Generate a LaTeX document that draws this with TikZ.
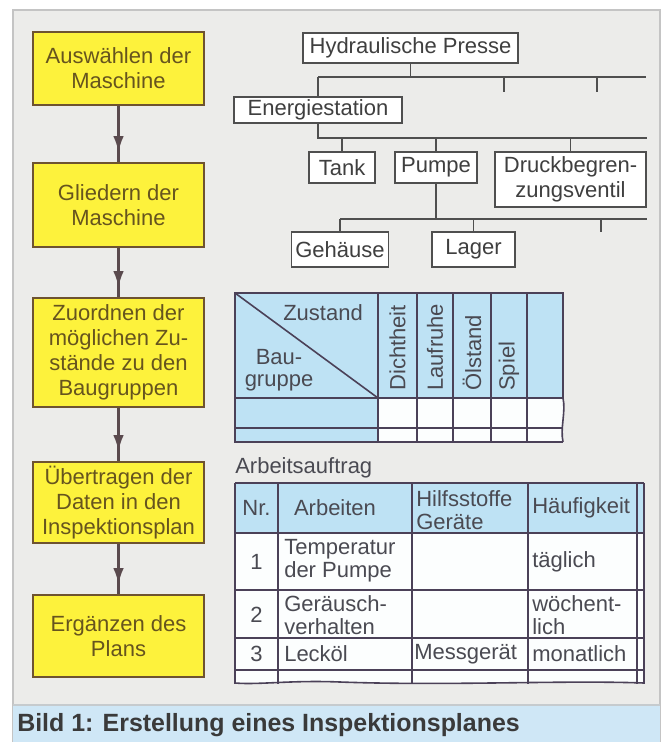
\documentclass[tikz,border=0pt]{standalone}
\usepackage{fontspec}
\setmainfont{Liberation Sans}
\usetikzlibrary{arrows.meta,decorations.markings,calc}

\definecolor{panel}{HTML}{ECECEA}
\definecolor{paneledge}{HTML}{C4C4C4}
\definecolor{capband}{HTML}{CFE7F6}
\definecolor{boxfill}{HTML}{FDF23C}
\definecolor{boxedge}{HTML}{6E5330}
\definecolor{boxtext}{HTML}{66541E}
\definecolor{flowc}{HTML}{5A4A4E}
\definecolor{treeline}{HTML}{4F4F4F}
\definecolor{treetext}{HTML}{3F3F3F}
\definecolor{tblue}{HTML}{BEE2F4}
\definecolor{tline}{HTML}{4B4158}
\definecolor{ttext}{HTML}{4A4A52}
\definecolor{captext}{HTML}{3A3A3A}

\def\pxu{0.75pt}
\newcommand\mainfs{\fontsize{16.5}{18.75}\selectfont}

\tikzset{
  stepbox/.style={draw=boxedge, line width=1.5pt, fill=boxfill, text=boxtext,
    align=center, inner sep=0pt, minimum width=171*\pxu, font=\mainfs},
  treebox/.style={draw=treeline, line width=1.4pt, fill=white, text=treetext,
    align=center, inner sep=0pt, font=\mainfs},
  treeline/.style={draw=treeline, line width=1.4pt},
  flow/.style={draw=flowc, line width=1.6pt, postaction={decorate},
    decoration={markings, mark=at position -7.5pt with
      {\arrow{Latex[length=12pt,width=8pt]}}}},
  grid/.style={draw=tline, line width=1.2pt},
  ttxt/.style={text=ttext, font=\mainfs, inner sep=0pt},
}

\begin{document}
\begin{tikzpicture}[x=0.75pt,y=-0.75pt]
\useasboundingbox (0,0) rectangle (666,742);

% background panel and caption band
\fill[white] (0,0) rectangle (666,742);
\fill[panel] (13,10) rectangle (660,705);
\draw[paneledge, line width=1pt] (13,742) -- (13,10) -- (660,10) -- (660,742);
\fill[capband] (13,705) rectangle (660,742);
\draw[paneledge!80!capband, line width=0.8pt] (13,705) -- (660,705);
\node[anchor=west, text=captext, inner sep=0pt,
      font=\fontsize{18.7}{21}\selectfont\bfseries] (cap) at (17,725)
  {Bild 1: Erstellung eines Inspektionsplanes};

% process steps
\node[stepbox, minimum height=73*\pxu]  (s1) at (118.5,68.5) {Auswählen der\\Maschine};
\node[stepbox, minimum height=84*\pxu]  (s2) at (118.5,205) {Gliedern der\\Maschine};
\node[stepbox, minimum height=109*\pxu] (s3) at (118.5,352.5) {Zuordnen der\\möglichen Zu-\\stände zu den\\Baugruppen};
\node[stepbox, minimum height=81*\pxu]  (s4) at (118.5,502.5) {Übertragen der\\Daten in den\\Inspektionsplan};
\node[stepbox, minimum height=82*\pxu]  (s5) at (118.5,636) {Ergänzen des\\Plans};

\draw[flow] (s1) -- (s2);
\draw[flow] (s2) -- (s3);
\draw[flow] (s3) -- (s4);
\draw[flow] (s4) -- (s5);

% structure tree of the machine
\node[treebox, minimum width=215*\pxu, minimum height=30*\pxu] (hp) at (410.5,48) {Hydraulische Presse};
\node[treebox, minimum width=168*\pxu, minimum height=26*\pxu] (es) at (318,110) {Energiestation};
\node[treebox, minimum width=66*\pxu, minimum height=31*\pxu] (tank) at (342,167.5) {Tank};
\node[treebox, minimum width=82*\pxu, minimum height=31*\pxu] (pumpe) at (436,167.5) {Pumpe};
\node[treebox, minimum width=151*\pxu, minimum height=55*\pxu] (dbv) at (570.5,179.5) {Druckbegren-\\zungsventil};
\node[treebox, minimum width=97*\pxu, minimum height=35*\pxu] (geh) at (340,249.5) {Gehäuse};
\node[treebox, minimum width=83*\pxu, minimum height=35*\pxu] (lager) at (473.5,249.5) {Lager};

\coordinate (b1l) at (318,77);  \coordinate (b1r) at (646,77);
\coordinate (b2l) at (318,138); \coordinate (b2r) at (647,138);
\coordinate (b3l) at (340,219); \coordinate (b3r) at (647,219);
\coordinate (f1) at (504,77); \coordinate (f2) at (597,77); \coordinate (f3) at (601,219);

\draw[treeline] (hp.south) -- (hp.south |- b1l);
\draw[treeline] (b1l) -- (b1r);
\draw[treeline] (b1l) -- (es.north);
\draw[treeline] (f1) -- ++(0,15);
\draw[treeline] (f2) -- ++(0,15);
\draw[treeline] (es.south) -- (b2l) -- (b2r);
\draw[treeline] (tank.north |- b2l) -- (tank.north);
\draw[treeline] (pumpe.north |- b2l) -- (pumpe.north);
\draw[treeline] (dbv.north |- b2l) -- (dbv.north);
\draw[treeline] (pumpe.south) -- (pumpe.south |- b3l);
\draw[treeline] (b3l) -- (b3r);
\draw[treeline] (geh.north |- b3l) -- (geh.north);
\draw[treeline] (lager.north |- b3l) -- (lager.north);
\draw[treeline] (f3) -- ++(0,13);

% table: states per assembly
\fill[tblue] (235,293) rectangle (563,398);
\fill[tblue] (235,398) rectangle (378,442);
\fill[white!96!tblue] (378,398) -- (563,398) .. controls (566,412) and (560,428) .. (563,442) -- (378,442) -- cycle;
\draw[grid] (235,293) rectangle (563,398);
\draw[grid] (235,398) -- (235,442) -- (563,442);
\draw[grid] (563,398) .. controls (566,412) and (560,428) .. (563,442);
\draw[grid] (235,428) -- (563,428);
\foreach \cx in {378,417,453,491,527} \draw[grid] (\cx,293) -- (\cx,442);
\draw[grid] (235,293) -- (378,398);
\node[ttxt] (zu) at (323,313) {Zustand};
\node[ttxt, align=center, font=\fontsize{16.5}{16.5}\selectfont] (bg) at (279,370) {Bau-\\gruppe};
\node[ttxt, rotate=90, anchor=west] (c1) at (397.5,391) {Dichtheit};
\node[ttxt, rotate=90, anchor=west] (c2) at (435,391) {Laufruhe};
\node[ttxt, rotate=90, anchor=west] (c3) at (472,391) {Ölstand};
\node[ttxt, rotate=90, anchor=west] (c4) at (509,391) {Spiel};

% work order table
\node[ttxt, anchor=west] (aa) at (235,468) {Arbeitsauftrag};
\fill[tblue] (235,483) rectangle (644,533);
\fill[white!96!tblue] (235,533) -- (644,533) -- (644,683)
  .. controls (560,680) and (450,686) .. (340,682) .. controls (290,680) and (260,685) .. (235,683) -- cycle;
\draw[grid] (235,483) -- (644,483);
\foreach \ry in {533,590,638,670} \draw[grid] (235,\ry) -- (644,\ry);
\foreach \cx in {235,278,412,528,637,644} \draw[grid] (\cx,483) -- (\cx,684);
\draw[grid] (235,683) .. controls (260,685) and (290,680) .. (340,682) .. controls (450,686) and (560,680) .. (644,683);

\node[ttxt] (h1) at (256.5,508) {Nr.};
\node[ttxt] (h2) at (335,508) {Arbeiten};
\node[ttxt, anchor=west, align=left, font=\fontsize{16.5}{17}\selectfont] (h3) at (416,510) {Hilfsstoffe\\Geräte};
\node[ttxt, anchor=west] (h4) at (532,508) {Häufigkeit};

\node[ttxt] (n1) at (256.5,562) {1};
\node[ttxt, anchor=west, align=left, font=\fontsize{16.5}{17.25}\selectfont] (a1) at (284,561) {Temperatur\\der Pumpe};
\node[ttxt, anchor=west] (q1) at (532,562) {täglich};

\node[ttxt] (n2) at (256.5,615) {2};
\node[ttxt, anchor=west, align=left, font=\fontsize{16.5}{17.25}\selectfont] (a2) at (284,615) {Geräusch-\\verhalten};
\node[ttxt, anchor=west, align=left, font=\fontsize{16.5}{17.25}\selectfont] (q2) at (532,615) {wöchent-\\lich};

\node[ttxt] (n3) at (256.5,654) {3};
\node[ttxt, anchor=west] (a3) at (284,654) {Lecköl};
\node[ttxt, anchor=west] (m3) at (414,654) {Messgerät};
\node[ttxt, anchor=west] (q3) at (532,654) {monatlich};
\end{tikzpicture}
\end{document}
